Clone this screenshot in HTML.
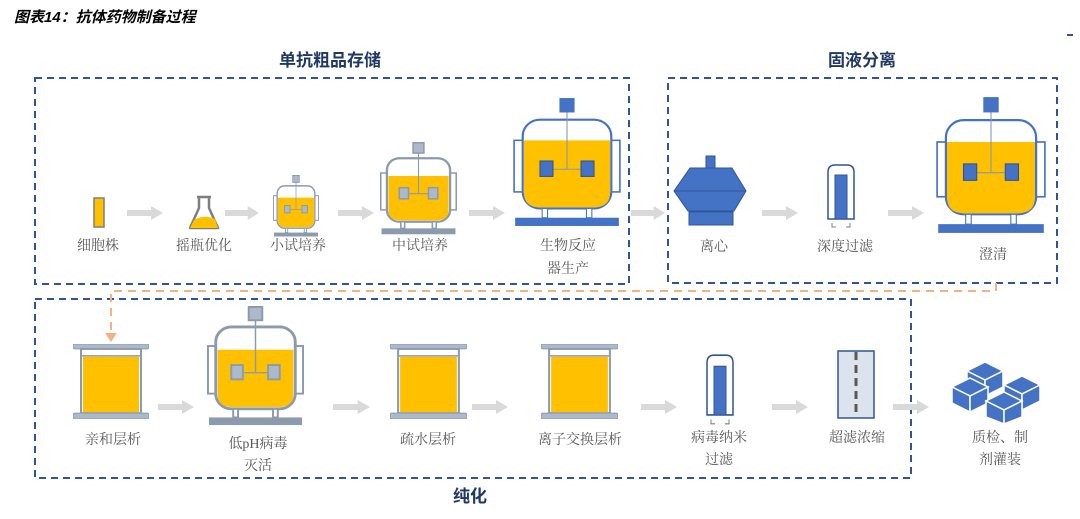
<!DOCTYPE html>
<html><head><meta charset="utf-8"><style>
html,body{margin:0;padding:0;background:#fff;}
svg{display:block;}
.lb{font-family:"Liberation Serif","Noto Serif CJK SC",serif;font-size:14px;fill:#595959;text-anchor:middle;}
.hd{font-family:"Liberation Sans","Noto Sans CJK SC",sans-serif;font-size:17px;font-weight:bold;fill:#1F3864;text-anchor:middle;}
</style></head><body>
<svg width="1080" height="519" viewBox="0 0 1080 519" xmlns="http://www.w3.org/2000/svg">
<defs>
<symbol id="rb" viewBox="0 -14 100 126" preserveAspectRatio="none">
 <rect x="1" y="28" width="8" height="50" fill="#fff" stroke="#4472C4" stroke-width="1.5"/>
 <rect x="91" y="28" width="8" height="50" fill="#fff" stroke="#4472C4" stroke-width="1.5"/>
 <rect x="9" y="8" width="82" height="86" rx="16" fill="#fff" stroke="#4472C4" stroke-width="2"/>
 <path d="M10 28 H90 V78 Q90 93 75 93 H25 Q10 93 10 78 Z" fill="#FFC000"/>
 <line x1="50" y1="0" x2="50" y2="56" stroke="#8497B0" stroke-width="1"/>
 <line x1="34" y1="56" x2="66" y2="56" stroke="#8497B0" stroke-width="1"/>
 <rect x="25" y="48" width="12" height="15" fill="#4472C4" stroke="#2F5597"/>
 <rect x="63" y="48" width="12" height="15" fill="#4472C4" stroke="#2F5597"/>
 <rect x="43" y="-13" width="14" height="14" fill="#4472C4"/>
 <rect x="27" y="94" width="5" height="9" fill="#fff" stroke="#4472C4"/>
 <rect x="68" y="94" width="5" height="9" fill="#fff" stroke="#4472C4"/>
 <rect x="2" y="103" width="96" height="8" fill="#4472C4"/>
</symbol>
<symbol id="rg" viewBox="0 -14 100 126" preserveAspectRatio="none">
 <rect x="1" y="28" width="8" height="50" fill="#fff" stroke="#8C9AAD" stroke-width="2"/>
 <rect x="91" y="28" width="8" height="50" fill="#fff" stroke="#8C9AAD" stroke-width="2"/>
 <rect x="9" y="8" width="82" height="86" rx="16" fill="#fff" stroke="#8C9AAD" stroke-width="3"/>
 <path d="M11 32 H89 V78 Q89 92 75 92 H25 Q11 92 11 78 Z" fill="#FFC000"/>
 <line x1="50" y1="0" x2="50" y2="56" stroke="#8C9AAD" stroke-width="1.5"/>
 <line x1="34" y1="56" x2="66" y2="56" stroke="#8C9AAD" stroke-width="1.5"/>
 <rect x="25" y="48" width="12" height="15" fill="#ADB9CA" stroke="#8C9AAD" stroke-width="2"/>
 <rect x="63" y="48" width="12" height="15" fill="#ADB9CA" stroke="#8C9AAD" stroke-width="2"/>
 <rect x="43" y="-13" width="14" height="14" fill="#ADB9CA" stroke="#8C9AAD" stroke-width="2"/>
 <rect x="27" y="94" width="5" height="9" fill="#fff" stroke="#8C9AAD" stroke-width="2"/>
 <rect x="68" y="94" width="5" height="9" fill="#fff" stroke="#8C9AAD" stroke-width="2"/>
 <rect x="2" y="103" width="96" height="8" fill="#8C9AAD"/>
</symbol>
<symbol id="col" viewBox="0 0 76 76" preserveAspectRatio="none">
 <rect x="0" y="0" width="76" height="5" rx="2" fill="#ADB9CA" stroke="#8C9AAD"/>
 <rect x="8" y="5" width="60" height="65" fill="#fff" stroke="#8C9AAD" stroke-width="2"/>
 <rect x="10" y="13" width="56" height="56" fill="#FFC000"/>
 <line x1="9" y1="12" x2="67" y2="12" stroke="#8C9AAD" stroke-width="1.5"/>
 <rect x="0" y="70" width="76" height="6" rx="2" fill="#ADB9CA" stroke="#8C9AAD"/>
</symbol>
<symbol id="ar" viewBox="0 0 36 14" preserveAspectRatio="none">
 <rect x="0" y="4" width="25" height="6" fill="#D9D9D9"/>
 <polygon points="24,0 36,7 24,14" fill="#D9D9D9"/>
</symbol>
<symbol id="flt" viewBox="0 0 30 66" preserveAspectRatio="none">
 <path d="M2 56 V9 Q2 2 9 2 H21 Q28 2 28 9 V56 Z" fill="#fff" stroke="#2F5597" stroke-width="1.5"/>
 <rect x="9" y="12" width="12" height="44" fill="#4472C4" stroke="#2F5597"/>
 <polyline points="6,60 6,64 10,64" fill="none" stroke="#7F7F7F"/>
 <polyline points="24,60 24,64 20,64" fill="none" stroke="#7F7F7F"/>
</symbol>
</defs>

<text x="14" y="22" font-family="'Liberation Sans','Noto Sans CJK SC',sans-serif" font-size="15" font-weight="bold" font-style="italic" fill="#000">图表14：抗体药物制备过程</text>
<line x1="1067" y1="35" x2="1073" y2="35" stroke="#2F5597" stroke-width="2"/>

<!-- boxes -->
<g fill="none" stroke="#2F5597" stroke-width="2" stroke-dasharray="7,5">
 <rect x="35" y="78" width="594" height="206"/>
 <rect x="668" y="78" width="389" height="205"/>
 <rect x="35" y="299" width="876" height="179"/>
</g>
<text class="hd" x="330" y="66">单抗粗品存储</text>
<text class="hd" x="862" y="66">固液分离</text>
<text class="hd" x="470" y="502">纯化</text>

<!-- orange connector -->
<polyline points="996,283 996,291 111,291 111,334" fill="none" stroke="#F4B183" stroke-width="2" stroke-dasharray="8,6"/>
<polygon points="105,333 117,333 111,342" fill="#F4B183"/>

<!-- row 1 -->
<rect x="94" y="198" width="10" height="29" fill="#FFC000" stroke="#7F7F7F" stroke-width="1.5"/>
<use href="#ar" x="127" y="206" width="36" height="14"/>
<path d="M197 197 H211 M199 197 V208 L190 228 H218 L209 208 V197" fill="#fff" stroke="#7F7F7F" stroke-width="2.5" stroke-linejoin="round"/>
<path d="M194 220 Q204 214 215 219 L218 228 H190 Z" fill="#FFC000"/>
<use href="#ar" x="225" y="206" width="34" height="14"/>
<use href="#rg" x="273" y="175" width="46" height="62"/>
<use href="#ar" x="338" y="206" width="36" height="14"/>
<use href="#rg" x="380" y="142" width="77" height="93"/>
<use href="#ar" x="469" y="206" width="36" height="14"/>
<use href="#rb" x="513" y="97" width="108" height="130"/>
<use href="#ar" x="631" y="206" width="34" height="14"/>
<!-- centrifuge -->
<g fill="#4472C4" stroke="#2F5597" stroke-width="1">
 <rect x="706" y="156" width="9" height="12"/>
 <polygon points="690,168 732,168 746,191 734,211 688,211 674,191"/>
 <rect x="689" y="212" width="44" height="13"/>
</g>
<line x1="675" y1="191" x2="745" y2="191" stroke="#2F5597"/>
<use href="#ar" x="762" y="206" width="36" height="14"/>
<use href="#flt" x="826" y="163" width="30" height="66"/>
<use href="#ar" x="888" y="206" width="36" height="14"/>
<use href="#rb" x="936" y="96" width="110" height="138"/>

<text class="lb" x="98" y="250">细胞株</text>
<text class="lb" x="204" y="250">摇瓶优化</text>
<text class="lb" x="298" y="250">小试培养</text>
<text class="lb" x="420" y="250">中试培养</text>
<text class="lb" x="568" y="250">生物反应</text>
<text class="lb" x="568" y="273">器生产</text>
<text class="lb" x="714" y="251">离心</text>
<text class="lb" x="845" y="251">深度过滤</text>
<text class="lb" x="993" y="259">澄清</text>

<!-- row 2 -->
<use href="#col" x="73" y="344" width="76" height="75"/>
<use href="#ar" x="158" y="400" width="36" height="14"/>
<use href="#rg" x="207" y="306" width="97" height="120"/>
<use href="#ar" x="333" y="400" width="37" height="14"/>
<use href="#col" x="390" y="344" width="77" height="75"/>
<use href="#ar" x="472" y="400" width="36" height="14"/>
<use href="#col" x="541" y="344" width="77" height="75"/>
<use href="#ar" x="641" y="400" width="36" height="14"/>
<use href="#flt" x="705" y="353" width="30" height="73"/>
<use href="#ar" x="772" y="400" width="36" height="14"/>
<rect x="838" y="351" width="36" height="67" fill="#DDE3EC" stroke="#2F5597" stroke-width="1.5"/>
<line x1="856" y1="352" x2="856" y2="417" stroke="#595959" stroke-width="3" stroke-dasharray="8,5"/>
<use href="#ar" x="893" y="400" width="36" height="14"/>
<!-- boxes icon -->
<g fill="#4472C4" stroke="#fff" stroke-width="1.5">
 <polygon points="985,362 1003,371 985,380 967,371"/>
 <polygon points="967,371 985,380 985,396 967,387"/>
 <polygon points="985,380 1003,371 1003,387 985,396"/>
 <polygon points="1022,376 1040,385 1022,394 1004,385"/>
 <polygon points="1004,385 1022,394 1022,410 1004,401"/>
 <polygon points="1022,394 1040,385 1040,401 1022,410"/>
 <polygon points="970,378 988,387 970,396 952,387"/>
 <polygon points="952,387 970,396 970,412 952,403"/>
 <polygon points="970,396 988,387 988,403 970,412"/>
 <polygon points="1004,392 1022,401 1004,410 986,401"/>
 <polygon points="986,401 1004,410 1004,424 986,417"/>
 <polygon points="1004,410 1022,401 1022,417 1004,424"/>
</g>

<text class="lb" x="113" y="444">亲和层析</text>
<text class="lb" x="258" y="448">低pH病毒</text>
<text class="lb" x="258" y="470">灭活</text>
<text class="lb" x="428" y="444">疏水层析</text>
<text class="lb" x="580" y="444">离子交换层析</text>
<text class="lb" x="719" y="442">病毒纳米</text>
<text class="lb" x="719" y="464">过滤</text>
<text class="lb" x="857" y="442">超滤浓缩</text>
<text class="lb" x="1000" y="442">质检、制</text>
<text class="lb" x="1000" y="464">剂灌装</text>
</svg>
</body></html>
